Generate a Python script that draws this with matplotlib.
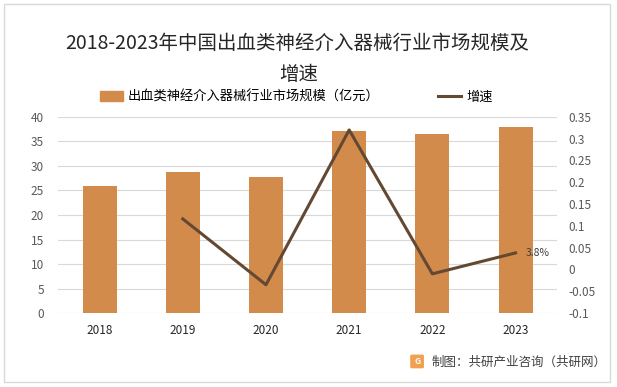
import matplotlib.pyplot as plt
from matplotlib.patches import Rectangle, FancyBboxPatch
from matplotlib.lines import Line2D

plt.rcParams['font.family'] = ['Noto Sans CJK SC', 'DejaVu Sans']

years = ['2018', '2019', '2020', '2021', '2022', '2023']
scale = [26, 28.8, 27.8, 37.1, 36.6, 37.9]
growth_years = ['2019', '2020', '2021', '2022', '2023']
growth = [0.116, -0.035, 0.32, -0.01, 0.038]

bar_color = '#D38B4C'
line_color = '#634832'
tick_color = '#595959'

fig = plt.figure(figsize=(6.17, 3.87), dpi=100)
ax = fig.add_axes([0.094, 0.191, 0.809, 0.507])
ax2 = ax.twinx()

x = list(range(len(years)))
ax.bar(x, scale, width=0.41, color=bar_color, zorder=2)
gx = [years.index(y) for y in growth_years]
ax2.plot(gx, growth, color=line_color, linewidth=2.2, zorder=3)
ax2.text(gx[-1] + 0.12, growth[-1], '3.8%', fontsize=7.5, color='#404040', va='center')

ax.set_xlim(-0.5, 5.5)
ax.set_ylim(0, 40)
ax.set_yticks(range(0, 41, 5))
ax2.set_ylim(-0.1, 0.35)
ax2.set_yticks([-0.1, -0.05, 0, 0.05, 0.1, 0.15, 0.2, 0.25, 0.3, 0.35])
ax2.set_yticklabels(['-0.1', '-0.05', '0', '0.05', '0.1', '0.15', '0.2', '0.25', '0.3', '0.35'])
ax.set_xticks(x)
ax.set_xticklabels(years)
ax.yaxis.grid(True, color='#d9d9d9', linewidth=0.8, zorder=0)
ax.set_axisbelow(True)
for a in (ax, ax2):
    for s in a.spines.values():
        s.set_visible(False)
    a.tick_params(length=0, labelsize=8.5, colors=tick_color)
ax.tick_params(axis='x', colors='#262626', pad=8)
ax.tick_params(axis='y', pad=10)
ax2.tick_params(axis='y', pad=8)

fig.text(0.481, 0.888, '2018-2023年中国出血类神经介入器械行业市场规模及', fontsize=14,
         ha='center', va='center', color='#262626')
fig.text(0.484, 0.807, '增速', fontsize=14, ha='center', va='center', color='#262626')

handles = [Rectangle((0, 0), 1, 1, color=bar_color),
           Line2D([0], [0], color=line_color, linewidth=2.2)]
fig.legend(handles, ['出血类神经介入器械行业市场规模（亿元）', '增速'], loc='center',
           bbox_to_anchor=(0.48, 0.749), ncol=2, frameon=False, fontsize=9.5,
           handlelength=1.75, handletextpad=0.4, columnspacing=4.4)

# source
fig.patches.append(FancyBboxPatch((0.668, 0.052), 0.016, 0.028, boxstyle='round,pad=0.002',
                                  transform=fig.transFigure, color='#F0A050'))
fig.text(0.676, 0.066, 'G', fontsize=6, color='white', ha='center', va='center', weight='bold')
fig.text(0.700, 0.064, '制图：共研产业咨询（共研网）', fontsize=9, color='#404040', va='center')

fig.patches.append(Rectangle((0.006, 0.012), 0.983, 0.977, transform=fig.transFigure,
                             fill=False, edgecolor='#d9d9d9', linewidth=1))

fig.savefig('out.png', dpi=100)
